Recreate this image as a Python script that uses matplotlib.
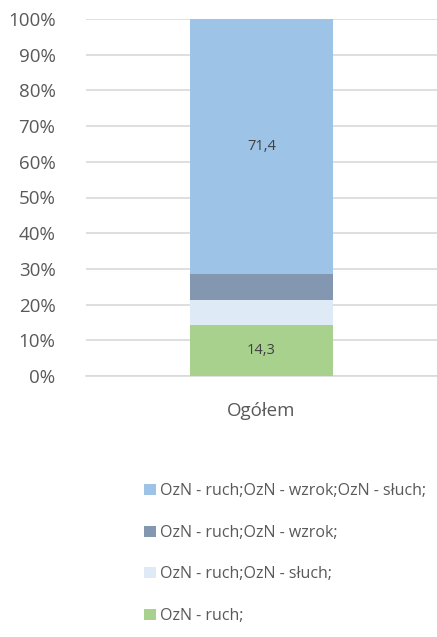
import matplotlib
matplotlib.use("Agg")
import matplotlib.pyplot as plt
from matplotlib.ticker import FuncFormatter

plt.rcParams['font.family'] = ['Open Sans', 'DejaVu Sans']

categories = ["Ogółem"]
series_labels = ["OzN - ruch;", "OzN - ruch;OzN - słuch;", "OzN - ruch;OzN - wzrok;",
                 "OzN - ruch;OzN - wzrok;OzN - słuch;"]
series_values = [[14.3], [7.1], [7.1], [71.4]]
series_colors = ["#A9D18E", "#DEEBF7", "#8497B0", "#9DC3E6"]
show_labels = [True, False, False, True]
yticks = [0, 10, 20, 30, 40, 50, 60, 70, 80, 90, 100]

fig = plt.figure(figsize=(4.37, 6.37), dpi=100)
ax = fig.add_axes([86/437, 1 - 376/637, (437-86)/437, (376-19)/637])

bottoms = [0.0] * len(categories)
handles = []
for lab, vals, col, show in zip(series_labels, series_values, series_colors, show_labels):
    b = ax.bar(range(len(categories)), vals, bottom=bottoms, width=0.405, color=col,
               label=lab, zorder=3)
    handles.append(b)
    if show:
        for i, v in enumerate(vals):
            ax.text(i, bottoms[i] + v / 2, f"{v:.1f}".replace(".", ","), ha="center",
                    va="center", fontsize=10.5, color="#404040", zorder=4)
    bottoms = [bo + v for bo, v in zip(bottoms, vals)]

ax.set_xlim(-0.5, 0.5)
ax.set_ylim(0, 100)
ax.set_yticks(yticks)
ax.yaxis.set_major_formatter(FuncFormatter(lambda v, p: f"{int(v)}%"))
ax.set_xticks(range(len(categories)))
ax.set_xticklabels(categories)
ax.tick_params(axis="y", length=0, labelsize=13.5, labelcolor="#595959", pad=22)
ax.tick_params(axis="x", length=0, labelsize=13.5, labelcolor="#595959", pad=19)
ax.grid(axis="y", color="#D9D9D9", linewidth=1.2, zorder=0)
for s in ["top", "right", "left"]:
    ax.spines[s].set_visible(False)
ax.spines["bottom"].set_color("#D9D9D9")
ax.spines["bottom"].set_linewidth(1.2)

leg = fig.legend(handles[::-1], series_labels[::-1], loc="upper left",
                 bbox_to_anchor=(130/437, 1 - 469/637), frameon=False,
                 fontsize=11.5, labelcolor="#595959", handlelength=0.7, handleheight=0.7,
                 handletextpad=0.25, labelspacing=1.6)

fig.savefig("out.png", dpi=100)
